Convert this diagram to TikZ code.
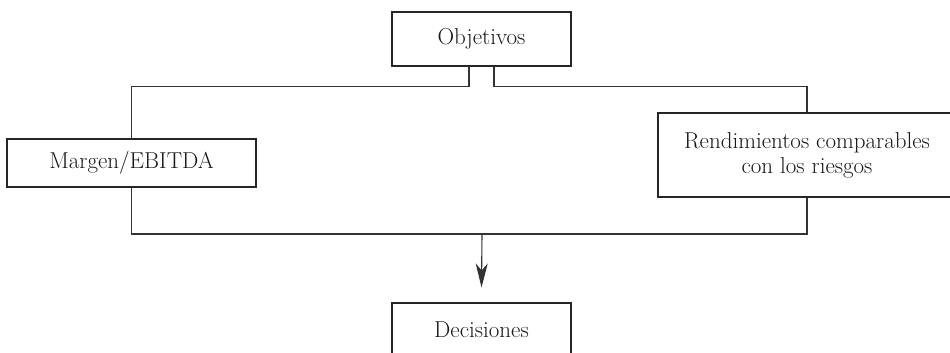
\documentclass[tikz,border=0pt]{standalone}
\usetikzlibrary{arrows.meta}
\begin{document}
\begin{tikzpicture}[x=1pt,y=-1pt,
  box/.style={draw=black!85,line width=1.1pt,fill=white,inner sep=0pt,align=center,
    font=\fontsize{23}{25}\selectfont,text=black!90},
  conn/.style={draw=black!80,line width=1.1pt}]
\useasboundingbox (0,0) rectangle (950,353);
\clip (0,0) rectangle (950,353);
\node[box,minimum width=179pt,minimum height=54pt] (obj) at (481.5,39) {Objetivos};
\node[box,minimum width=249pt,minimum height=48pt] (mar) at (131.5,163) {Margen/EBITDA};
\node[box,minimum width=298pt,minimum height=84pt] (ren) at (807,155) {Rendimientos comparables\\con los riesgos};
\node[box,minimum width=179pt,minimum height=54pt] (dec) at (481.5,330) {Decisiones};
\coordinate (join) at (482,234);
\draw[conn] ([xshift=-12.5pt]obj.south) -- ++(0,20) -| (mar.north);
\draw[conn] ([xshift=12.5pt]obj.south) -- ++(0,20) -| (ren.north);
\draw[conn] (mar.south) |- (join) -| (ren.south);
\draw[conn,-{Stealth[length=24pt,width=12pt,inset=7pt]}] (join) -- ([yshift=15pt]dec.north);
\end{tikzpicture}
\end{document}
